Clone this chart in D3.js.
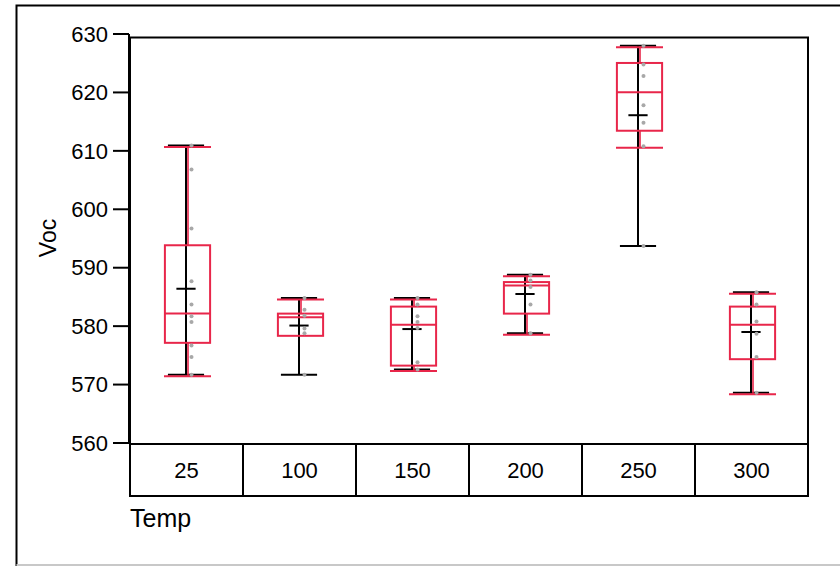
<!DOCTYPE html>
<html>
<head>
<meta charset="utf-8">
<script src="https://cdn.jsdelivr.net/npm/d3@7"></script>
<style>
  html, body { margin: 0; padding: 0; background: #fff; }
  svg { display: block; font-family: "Liberation Sans", Arial, Helvetica, sans-serif; }
</style>
</head>
<body>
<svg id="chart" width="840" height="566"></svg>
<script>
// Voc by anneal temperature: raw points, quantile boxes, range bars and means
const temps      = ["25", "100", "150", "200", "250", "300"];
const q1s        = [577.4, 578.6, 573.5, 582.4, 613.7, 574.6];
const medians    = [582.4, 581.8, 580.5, 587.2, 620.3, 580.5];
const q3s        = [594.1, 582.4, 583.6, 587.8, 625.3, 583.6];
const whiskerLo  = [571.7, 578.6, 572.6, 578.8, 610.8, 568.6];
const whiskerHi  = [610.9, 584.8, 584.8, 588.8, 628.0, 585.8];
const means      = [586.4, 580.1, 579.5, 585.5, 616.1, 579.0];
const points = [
  [610.9, 606.8, 596.7, 587.7, 583.7, 581.7, 580.7, 576.7, 574.7, 571.7],
  [584.8, 582.8, 581.8, 579.6, 578.8, 571.7],
  [584.8, 583.7, 581.7, 580.7, 579.7, 573.8, 572.6],
  [588.8, 587.8, 586.7, 583.7, 578.8],
  [628.0, 624.8, 622.8, 617.8, 614.8, 610.8, 593.7],
  [585.8, 583.7, 580.8, 578.7, 574.7, 568.6]
];
const yTicks = [560, 570, 580, 590, 600, 610, 620, 630];

const RED = "#e8264a";
const svg = d3.select("#chart");

const plot = { left: 130, right: 808, top: 37.5, bottom: 444 };
const y = d3.scaleLinear().domain([560, 630]).range([443, 34]);
const x = d3.scaleBand().domain(temps).range([plot.left, plot.right]);
const bw = x.bandwidth();
const cx = t => x(t) + bw / 2;

// outer frame (left, top, bottom edges)
svg.append("path")
  .attr("d", "M16.5,566 V5.5 H840")
  .attr("fill", "none").attr("stroke", "#000").attr("stroke-width", 2);
svg.append("line")
  .attr("x1", 16.5).attr("x2", 840).attr("y1", 565).attr("y2", 565)
  .attr("stroke", "#c8c8c8").attr("stroke-width", 2);

// plot frame
svg.append("rect")
  .attr("x", plot.left).attr("y", plot.top)
  .attr("width", plot.right - plot.left).attr("height", plot.bottom - plot.top)
  .attr("fill", "none").attr("stroke", "#000").attr("stroke-width", 2);

// y axis
const yAxis = svg.append("g");
yAxis.append("line")
  .attr("x1", 129).attr("x2", 129).attr("y1", y(630)).attr("y2", plot.bottom)
  .attr("stroke", "#000").attr("stroke-width", 2);
yAxis.selectAll("line.tick").data(yTicks).join("line")
  .attr("class", "tick")
  .attr("x1", 113).attr("x2", 129)
  .attr("y1", d => y(d)).attr("y2", d => y(d))
  .attr("stroke", "#000").attr("stroke-width", 2);
yAxis.selectAll("text").data(yTicks).join("text")
  .attr("x", 108).attr("y", d => y(d)).attr("dy", "0.35em")
  .attr("text-anchor", "end").attr("font-size", 22)
  .text(d => d);

svg.append("text")
  .attr("transform", `translate(56,${238}) rotate(-90)`)
  .attr("text-anchor", "middle").attr("font-size", 23)
  .text("Voc");

// category strip under the plot
const strip = svg.append("g");
strip.append("path")
  .attr("d", `M${plot.left},${plot.bottom} V496 H${plot.right} V${plot.bottom}`)
  .attr("fill", "none").attr("stroke", "#000").attr("stroke-width", 2);
strip.selectAll("line").data(temps.slice(1)).join("line")
  .attr("x1", d => x(d)).attr("x2", d => x(d))
  .attr("y1", plot.bottom).attr("y2", 496)
  .attr("stroke", "#000").attr("stroke-width", 2);
strip.selectAll("text").data(temps).join("text")
  .attr("x", d => cx(d)).attr("y", 470).attr("dy", "0.35em")
  .attr("text-anchor", "middle").attr("font-size", 22)
  .text(d => d);

svg.append("text")
  .attr("x", plot.left).attr("y", 527)
  .attr("font-size", 25)
  .text("Temp");

// range bars (min to max) with caps and mean ticks
const rangeG = svg.append("g");
temps.forEach((t, i) => {
  const [lo, hi] = d3.extent(points[i]);
  const c = cx(t) - 0.5;
  rangeG.append("line")
    .attr("x1", c).attr("x2", c).attr("y1", y(lo)).attr("y2", y(hi))
    .attr("stroke", "#000").attr("stroke-width", 2);
  [lo, hi].forEach(v => rangeG.append("line")
    .attr("x1", c - bw * 0.16).attr("x2", c + bw * 0.16)
    .attr("y1", y(v)).attr("y2", y(v))
    .attr("stroke", "#000").attr("stroke-width", 2));
  rangeG.append("line")
    .attr("x1", c - bw * 0.085).attr("x2", c + bw * 0.085)
    .attr("y1", y(means[i])).attr("y2", y(means[i]))
    .attr("stroke", "#000").attr("stroke-width", 2);
});

// quantile boxes with whiskers
const boxG = svg.append("g").attr("transform", "translate(1,1.5)");
temps.forEach((t, i) => {
  const c = cx(t);
  const hw = bw * 0.2, cw = bw * 0.208;
  boxG.append("line")
    .attr("x1", c + 0.5).attr("x2", c + 0.5)
    .attr("y1", y(whiskerHi[i])).attr("y2", y(q3s[i]))
    .attr("stroke", RED).attr("stroke-width", 1.6);
  boxG.append("line")
    .attr("x1", c + 0.5).attr("x2", c + 0.5)
    .attr("y1", y(q1s[i])).attr("y2", y(whiskerLo[i]))
    .attr("stroke", RED).attr("stroke-width", 1.6);
  [[whiskerHi[i], q3s[i]], [whiskerLo[i], q1s[i]]].forEach(([w, q]) => {
    if (w !== q) boxG.append("line")
      .attr("x1", c - cw).attr("x2", c + cw)
      .attr("y1", y(w)).attr("y2", y(w))
      .attr("stroke", RED).attr("stroke-width", 2);
  });
  boxG.append("rect")
    .attr("x", c - hw).attr("y", y(q3s[i]))
    .attr("width", hw * 2).attr("height", y(q1s[i]) - y(q3s[i]))
    .attr("fill", "none").attr("stroke", RED).attr("stroke-width", 2);
  boxG.append("line")
    .attr("x1", c - hw).attr("x2", c + hw)
    .attr("y1", y(medians[i])).attr("y2", y(medians[i]))
    .attr("stroke", RED).attr("stroke-width", 2);
});

// raw observations
const ptG = svg.append("g");
temps.forEach((t, i) => {
  ptG.selectAll(null).data(points[i]).join("circle")
    .attr("cx", cx(t) + 5).attr("cy", d => y(d)).attr("r", 2)
    .attr("fill", "#a8a8a8");
});
</script>
</body>
</html>
